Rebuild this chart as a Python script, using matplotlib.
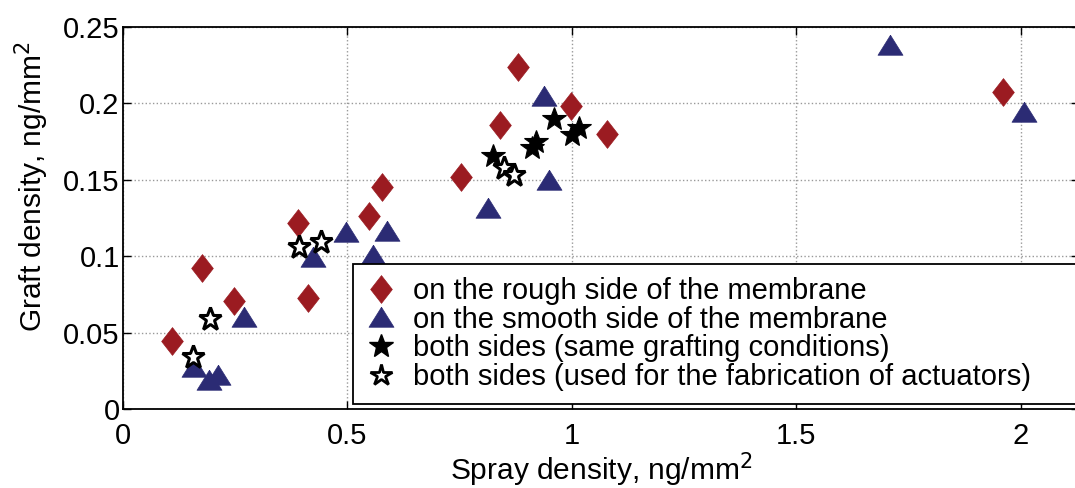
import matplotlib
matplotlib.use("Agg")
import matplotlib.pyplot as plt
from matplotlib.lines import Line2D

plt.rcParams['font.family'] = ['Liberation Sans', 'DejaVu Sans']

# Data
rough_x = [0.111, 0.176, 0.249, 0.414, 0.390, 0.550, 0.579, 0.755, 0.840, 0.880, 0.998, 1.078, 1.960]
rough_y = [0.0445, 0.092, 0.0707, 0.0726, 0.122, 0.126, 0.145, 0.152, 0.186, 0.224, 0.198, 0.180, 0.2075]

smooth_x = [0.160, 0.192, 0.212, 0.270, 0.425, 0.497, 0.559, 0.588, 0.813, 0.938, 0.949, 1.710, 2.007]
smooth_y = [0.027, 0.018, 0.0216, 0.0595, 0.099, 0.115, 0.100, 0.116, 0.131, 0.204, 0.149, 0.2376, 0.194]

both_x = [0.826, 0.913, 0.920, 0.960, 1.002, 1.016]
both_y = [0.1656, 0.171, 0.175, 0.190, 0.179, 0.184]

act_x = [0.158, 0.194, 0.392, 0.441, 0.849, 0.871]
act_y = [0.034, 0.059, 0.106, 0.109, 0.158, 0.153]

labels = ["on the rough side of the membrane",
          "on the smooth side of the membrane",
          "both sides (same grafting conditions)",
          "both sides (used for the fabrication of actuators)"]

xticks = [0, 0.5, 1, 1.5, 2]
xticklabels = ["0", "0.5", "1", "1.5", "2"]
yticks = [0, 0.05, 0.1, 0.15, 0.2, 0.25]
yticklabels = ["0", "0.05", "0.1", "0.15", "0.2", "0.25"]

red = "#9B1B21"
navy = "#2B2B74"

diamond = [(0, 1), (0.78, 0), (0, -1), (-0.78, 0), (0, 1)]
tri = [(0, 0.9), (1, -0.7), (-1, -0.7), (0, 0.9)]

W, H = 1075, 488
fig = plt.figure(figsize=(W / 100, H / 100), dpi=100)
ax_left, ax_right, ax_bot, ax_top = 122.5, 1079, 409, 27
ax = fig.add_axes([ax_left / W, 1 - ax_bot / H, (ax_right - ax_left) / W, (ax_bot - ax_top) / H])
axw = ax_right - ax_left
axh = ax_bot - ax_top

ax.plot(rough_x, rough_y, linestyle='none', marker=diamond, markersize=20,
        markerfacecolor=red, markeredgecolor=red, markeredgewidth=0.5, zorder=3)
ax.plot(smooth_x, smooth_y, linestyle='none', marker=tri, markersize=18,
        markerfacecolor=navy, markeredgecolor=navy, markeredgewidth=0.5, zorder=3)
ax.plot(both_x, both_y, linestyle='none', marker='*', markersize=18,
        markerfacecolor='black', markeredgecolor='black', markeredgewidth=0.8, zorder=4)
ax.plot(act_x, act_y, linestyle='none', marker='*', markersize=17,
        markerfacecolor='white', markeredgecolor='black', markeredgewidth=2.2, zorder=4)

ax.set_xlim(0, axw / 449)
ax.set_ylim(0, 0.25)
ax.set_xticks(xticks)
ax.set_xticklabels(xticklabels)
ax.set_yticks(yticks)
ax.set_yticklabels(yticklabels)
ax.tick_params(direction='in', top=True, right=True, length=6, width=1,
               labelsize=21)
ax.tick_params(axis='x', pad=9)
ax.tick_params(axis='y', pad=2)
ax.grid(True, linestyle=':', color='#999999', linewidth=1.0)
ax.set_axisbelow(True)
for s in ax.spines.values():
    s.set_linewidth(1.3)

ax.set_xlabel("Spray density, ng/mm$^2$", fontsize=21.5)
ax.set_ylabel("Graft density, ng/mm$^2$", fontsize=21.5)
ax.xaxis.label.set_va('baseline')
ax.xaxis.set_label_coords(0.5, (ax_bot - 480) / axh)
ax.yaxis.set_label_coords((51 - ax_left) / axw, (ax_bot - 187) / axh)

handles = [
    Line2D([], [], linestyle='none', marker=diamond, markersize=20,
           markerfacecolor=red, markeredgecolor=red, markeredgewidth=0.5),
    Line2D([], [], linestyle='none', marker=tri, markersize=18,
           markerfacecolor=navy, markeredgecolor=navy, markeredgewidth=0.5),
    Line2D([], [], linestyle='none', marker='*', markersize=18,
           markerfacecolor='black', markeredgecolor='black'),
    Line2D([], [], linestyle='none', marker='*', markersize=16,
           markerfacecolor='white', markeredgecolor='black', markeredgewidth=2.0),
]
leg = fig.legend(handles, labels, loc='lower left',
                 bbox_to_anchor=(353 / W, 1 - 404 / H, 0.75, (404 - 264) / H),
                 mode='expand', borderaxespad=0, fontsize=21, frameon=True,
                 fancybox=False, edgecolor='black', framealpha=1,
                 handlelength=1.0, handletextpad=0.6, labelspacing=0.02,
                 borderpad=0.45)
leg.get_frame().set_linewidth(1.3)

fig.savefig("out.png", dpi=100)
